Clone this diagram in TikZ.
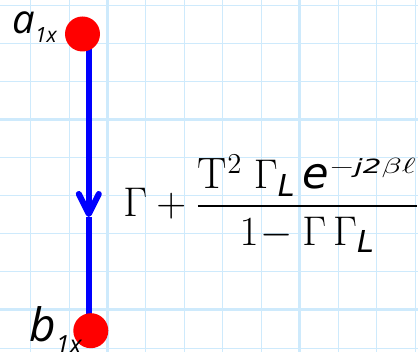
\documentclass[tikz,border=0pt]{standalone}
\usepackage{amsmath}
\usepackage{fontspec}
\usetikzlibrary{arrows.meta}
\newfontfamily\handfont{Open Sans}
\newfontfamily\formfont{DejaVu Sans}[Scale=0.98]
\definecolor{gridline}{RGB}{206,234,252}
\definecolor{wireblue}{RGB}{0,0,255}
\definecolor{dotred}{RGB}{255,0,0}
\newcommand{\sv}[1]{\text{\formfont\itshape #1}}
\newcommand{\phaseexp}{\scalebox{1.5}[1]{$\scriptscriptstyle -\text{\fontsize{10}{10}\selectfont\formfont\itshape j2}\beta\ell$}}
\pgfdeclarelayer{background}
\pgfsetlayers{background,main}

\begin{document}
\begin{tikzpicture}[x=0.5pt, y=-0.5pt,
  thin grid/.style={draw=gridline, line width=0.5pt},
  thick grid/.style={draw=gridline, line width=1.5pt},
  wire/.style={draw=wireblue, line width=3pt},
  dot/.style={circle, fill=dotred, inner sep=0pt, minimum size=17.5pt},
  port/.style={inner sep=0pt, anchor=base west}]
  \useasboundingbox (0,0) rectangle (418,352);
  \clip (0,0) rectangle (418,352);

  % ports
  \node[dot] (a) at (82.5,34) {};
  \node[dot] (b) at (90.8,330.7) {};
  \coordinate (tip) at (88.8,217);
  \begin{pgfonlayer}{background}
    % grid paper
    \foreach \i in {0,...,10}
      \draw[thin grid] ({30.7+38.43*\i},0) -- ({30.7+38.43*\i},352);
    \foreach \i in {-1,...,8}
      \draw[thin grid] (0,{43.3+38.1*\i}) -- (418,{43.3+38.1*\i});
    \foreach \x in {107.5,299.6}
      \draw[thick grid] (\x,0) -- (\x,352);
    \foreach \y in {119.5,310}
      \draw[thick grid] (0,\y) -- (418,\y);
    \draw[wire, -{Straight Barb[length=10pt, width=10pt, round]}] (tip |- a) -- (tip);
    \draw[wire] (tip) -- (tip |- b);
  \end{pgfonlayer}

  \node[port, font=\fontsize{20}{20}\selectfont\handfont\itshape] (alab) at (12,33.3)
    {a\raisebox{-4.5pt}{\fontsize{10.5}{10.5}\selectfont 1x}};
  \node[port, font=\fontsize{23}{23}\selectfont\handfont\itshape] (blab) at (29,341.7)
    {b\raisebox{-6pt}{\fontsize{12.5}{12.5}\selectfont 1x}};

  % reflection coefficient
  \node[port, font=\fontsize{22}{26}\selectfont] (gam) at (123,216.7)
    {$\displaystyle \Gamma + \frac{\mathrm{T}^2\;\Gamma_{\sv{L}}\,\sv{e}^{\phaseexp}}{1\!-\Gamma\,\Gamma_{\sv{L}}}$};
\end{tikzpicture}
\end{document}
